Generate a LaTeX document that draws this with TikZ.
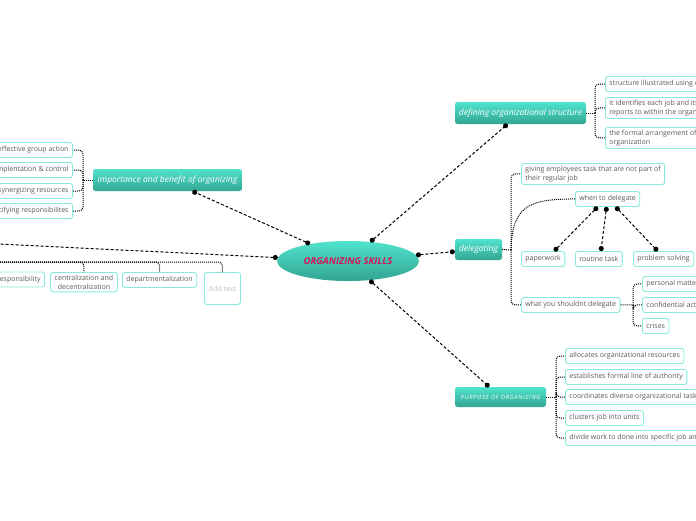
\documentclass[tikz,border=0pt]{standalone}
\usepackage{fontspec}
\setmainfont{Open Sans}
\usetikzlibrary{arrows.meta,calc,shapes.geometric}
\definecolor{tealtop}{HTML}{4FE3CC}
\definecolor{tealbot}{HTML}{33A592}
\definecolor{subb}{HTML}{86EBDC}
\definecolor{subt}{HTML}{5A5A5A}
\definecolor{rootc}{HTML}{D4145A}
\begin{document}
\begin{tikzpicture}[x=1pt,y=-1pt,
 sub/.style={draw=subb, line width=0.9pt, rounded corners=2.5pt, fill=white, text=subt, font=\fontsize{7}{9}\selectfont, align=left, inner xsep=4pt, inner ysep=2.5pt, minimum height=15pt},
 topic/.style={rounded corners=2.5pt, top color=tealtop, bottom color=tealbot, text=white, font=\fontsize{8.5}{10}\selectfont\itshape, inner sep=0pt},
 conn/.style={draw=black, line width=1pt, dash pattern=on 3pt off 2pt, {Circle[length=5pt]}-{Circle[length=5pt]}},
 connl/.style={draw=black, line width=1pt, dash pattern=on 3pt off 2pt, {Circle[length=5pt]}-},
 brk/.style={draw=black, line width=1pt, dash pattern=on 1pt off 1pt, rounded corners=4pt},
]
\useasboundingbox (0,0) rectangle (696,520);
\clip (0,0) rectangle (696,520);

% root
\node[ellipse, minimum width=142pt, minimum height=40pt, top color=tealtop, bottom color=tealbot, text=rootc, font=\fontsize{9.5}{11}\selectfont\bfseries\itshape] (org) at (348,261) {ORGANIZING SKILLS};

% topics
\node[topic, minimum width=149pt, minimum height=22pt] (imp) at (167.5,180) {importance and benefit of organizing};
\node[topic, minimum width=131pt, minimum height=22pt] (def) at (520.5,113) {defining organizational structure};
\node[topic, minimum width=47pt, minimum height=21pt] (del) at (478.5,249.5) {delegating};
\node[topic, minimum width=91pt, minimum height=20pt, font=\fontsize{5.8}{7}\selectfont\itshape\addfontfeatures{LetterSpace=12}] (pur) at (500.5,397) {PURPOSE OF ORGANIZING};

% main connectors
\coordinate (lp) at (-200,234.4);
\draw[conn] (org) -- (imp);
\draw[conn] (org) -- (def);
\draw[conn] (org) -- (del);
\draw[conn] (org) -- (pur);
\draw[connl] (org) -- (lp);

% importance children
\node[sub, anchor=east] (i1) at (73,150) {effective group action};
\node[sub, anchor=east] (i2) at (73,170) {implentation \& control};
\node[sub, anchor=east] (i3) at (73,191) {synergizing resources};
\node[sub, anchor=east] (i4) at (73,211) {specifying responsibilites};
\coordinate (ij) at (83,180);
\draw[brk] (imp.west) -- (ij);
\foreach \c in {i1,i2,i3,i4} \draw[brk] (ij) |- (\c.east);

% bottom-left children
\node[sub, anchor=east] (b1) at (45,279.5) {responsibility};
\node[sub, anchor=north west, align=center, minimum width=67pt] (b2) at (50,272) {centralization and\\decentralization};
\node[sub, anchor=north west] (b3) at (122,272) {departmentalization};
\node[sub, anchor=north west, text=black!25, minimum width=36pt, minimum height=32pt] (b4) at (204,272) {Add text};
\coordinate (bl) at (-20,262);
\draw[brk] (bl) -| (b2.north);
\draw[brk] (bl) -| (b3.north);
\draw[brk] (bl) -| (b4.north);

% defining children
\node[sub, anchor=west] (d1) at (605,84) {structure illustrated using organizational chart};
\node[sub, anchor=north west] (d2) at (605,97) {it identifies each job and its relation to whom it\\reports to within the organization};
\node[sub, anchor=north west] (d3) at (605,127) {the formal arrangement of jobs within an\\organization};
\coordinate (dj) at (595,113);
\draw[brk] (def.east) -- (dj);
\foreach \c in {d1,d2,d3} \draw[brk] (dj) |- (\c.west);

% delegating children
\node[sub, anchor=north west] (g1) at (521,163) {giving employees task that are not part of\\their regular job};
\node[sub, anchor=north west] (when) at (575,191) {when to delegate};
\node[sub, anchor=north west] (pw) at (521,251) {paperwork};
\node[sub, anchor=north west] (rt) at (575,251) {routine task};
\node[sub, anchor=north west] (ps) at (633,251) {problem solving};
\node[sub, anchor=north west] (wys) at (521,297) {what you shouldnt delegate};
\node[sub, anchor=north west] (pm) at (642,276) {personal matters};
\node[sub, anchor=north west] (ca) at (642,297) {confidential activities};
\node[sub, anchor=north west] (cr) at (642,318) {crises};
\coordinate (gj) at (511,250);
\draw[brk] (del.east) -- (gj);
\draw[brk] (gj) |- (g1.west);
\draw[brk] (gj) |- (wys.west);
\draw[brk] (gj) .. controls (512,205) and (530,199) .. (when.west);
\draw[conn] ([xshift=-10pt]when.south) -- ([xshift=11pt]pw.north);
\draw[conn] ([xshift=-1pt]when.south) -- ([xshift=2pt]rt.north);
\draw[conn] ([xshift=8pt]when.south) -- ([xshift=-6pt]ps.north);
\coordinate (wj) at (633,305);
\draw[brk] (wys.east) -- (wj);
\foreach \c in {pm,ca,cr} \draw[brk] (wj) |- (\c.west);

% purpose children
\node[sub, anchor=west] (p1) at (565,356) {allocates organizational resources};
\node[sub, anchor=west] (p2) at (565,377) {establishes formal line of authority};
\node[sub, anchor=west] (p3) at (565,397) {coordinates diverse organizational tasks};
\node[sub, anchor=west] (p4) at (565,418) {clusters job into units};
\node[sub, anchor=west] (p5) at (565,438) {divide work to done into specific job and departments};
\coordinate (pj) at (556,397);
\draw[brk] (pur.east) -- (pj);
\foreach \c in {p1,p2,p3,p4,p5} \draw[brk] (pj) |- (\c.west);
\end{tikzpicture}
\end{document}
